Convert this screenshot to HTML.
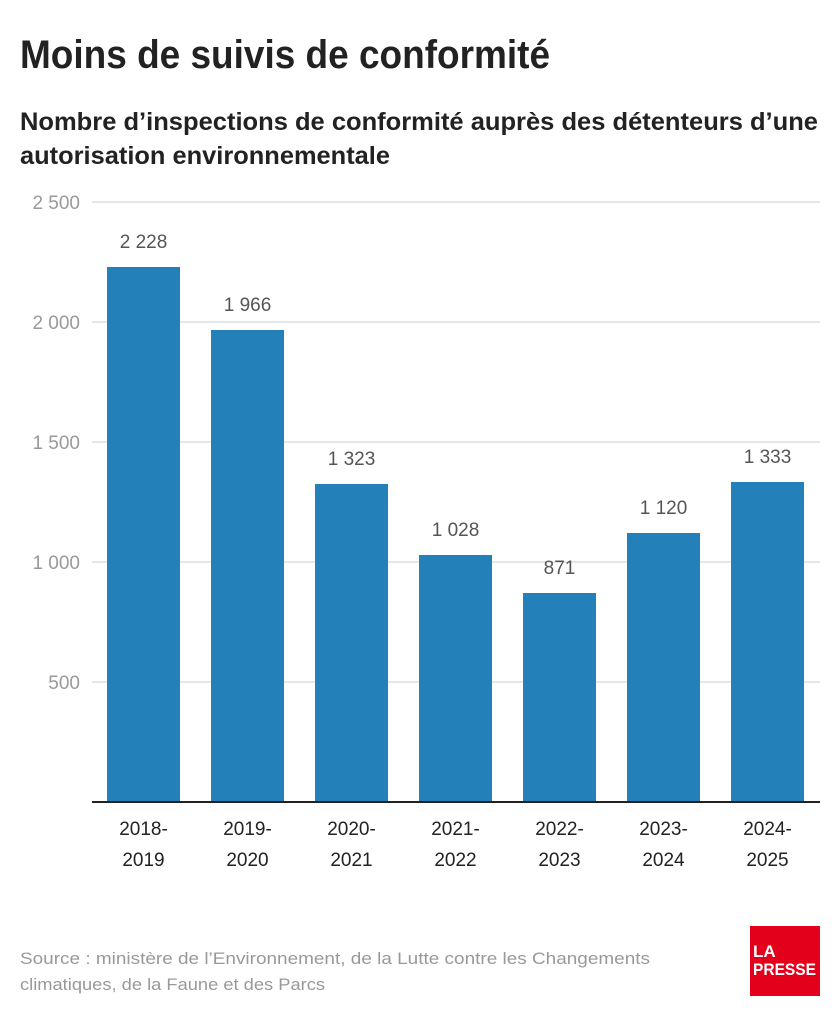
<!DOCTYPE html>
<html><head><meta charset="utf-8"><style>
html,body{margin:0;padding:0;background:#fff;}
body{width:840px;height:1016px;overflow:hidden;font-family:"Liberation Sans",sans-serif;}
</style></head><body>
<svg width="840" height="1016" xmlns="http://www.w3.org/2000/svg" font-family="Liberation Sans, sans-serif">
<text x="20" y="68" font-size="40" font-weight="bold" fill="#222" textLength="530" lengthAdjust="spacingAndGlyphs">Moins de suivis de conformité</text>
<text x="20" y="130" font-size="25" font-weight="bold" fill="#222" textLength="798" lengthAdjust="spacingAndGlyphs">Nombre d’inspections de conformité auprès des détenteurs d’une</text>
<text x="20" y="164" font-size="25" font-weight="bold" fill="#222" textLength="370" lengthAdjust="spacingAndGlyphs">autorisation environnementale</text>
<g stroke="#ddd" stroke-width="1.5">
<line x1="92" x2="820" y1="202" y2="202"/><line x1="92" x2="820" y1="322" y2="322"/>
<line x1="92" x2="820" y1="442" y2="442"/><line x1="92" x2="820" y1="562" y2="562"/>
<line x1="92" x2="820" y1="682" y2="682"/></g>
<g font-size="19" fill="#999" text-anchor="end">
<text x="80" y="209">2 500</text><text x="80" y="329">2 000</text><text x="80" y="449">1 500</text>
<text x="80" y="569">1 000</text><text x="80" y="689">500</text></g>
<g fill="#2380b8">
<rect x="107" y="267" width="73" height="535"/>
<rect x="211" y="330" width="73" height="472"/>
<rect x="315" y="484" width="73" height="318"/>
<rect x="419" y="555" width="73" height="247"/>
<rect x="523" y="593" width="73" height="209"/>
<rect x="627" y="533" width="73" height="269"/>
<rect x="731" y="482" width="73" height="320"/></g>
<line x1="92" x2="820" y1="802" y2="802" stroke="#222" stroke-width="2"/>
<g font-size="19" fill="#555" text-anchor="middle">
<text x="143.5" y="248">2 228</text><text x="247.5" y="311">1 966</text><text x="351.5" y="465">1 323</text>
<text x="455.5" y="536">1 028</text><text x="559.5" y="574">871</text><text x="663.5" y="514">1 120</text>
<text x="767.5" y="463">1 333</text></g>
<g font-size="19" fill="#222" text-anchor="middle">
<text x="143.5" y="835">2018-</text><text x="143.5" y="866">2019</text>
<text x="247.5" y="835">2019-</text><text x="247.5" y="866">2020</text>
<text x="351.5" y="835">2020-</text><text x="351.5" y="866">2021</text>
<text x="455.5" y="835">2021-</text><text x="455.5" y="866">2022</text>
<text x="559.5" y="835">2022-</text><text x="559.5" y="866">2023</text>
<text x="663.5" y="835">2023-</text><text x="663.5" y="866">2024</text>
<text x="767.5" y="835">2024-</text><text x="767.5" y="866">2025</text></g>
<g font-size="17" fill="#999">
<text x="20" y="964" textLength="630" lengthAdjust="spacingAndGlyphs">Source : ministère de l’Environnement, de la Lutte contre les Changements</text>
<text x="20" y="990" textLength="305" lengthAdjust="spacingAndGlyphs">climatiques, de la Faune et des Parcs</text></g>
<rect x="750" y="926" width="70" height="70" fill="#e2001a"/>
<g fill="#fff" font-weight="bold" font-size="17">
<text x="753" y="957">LA</text>
<text x="753" y="975" textLength="63" lengthAdjust="spacingAndGlyphs">PRESSE</text></g>
</svg>
</body></html>
